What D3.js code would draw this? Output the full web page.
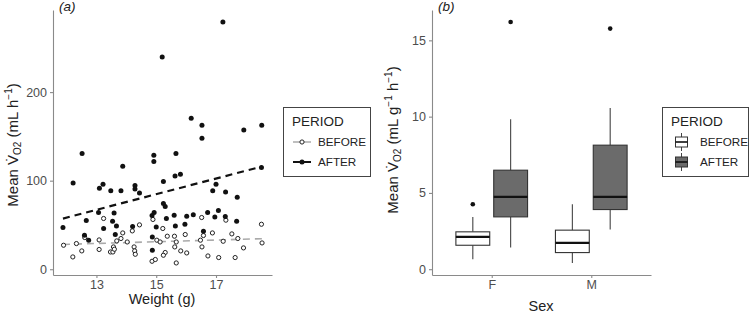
<!DOCTYPE html>
<html><head><meta charset="utf-8">
<script src="https://cdn.jsdelivr.net/npm/d3@7"></script>
<style>
body{margin:0;background:#fff;}
svg{display:block;font-family:"Liberation Sans",Arial,Helvetica,sans-serif;}
</style></head><body>
<svg id="chart" width="750" height="315"></svg>
<script>
// ---------- Panel (a) data ----------
const weightBefore = [11.9,12.33,12.51,12.21,13.09,13.24,13.57,13.68,13.47,13.55,13.6,13.88,13.82,14.03,14.44,14.2,14.26,14.28,14.3,14.89,15.02,14.86,14.97,12.61,13.09,16.52,17.33,18.52,15.22,15.37,15.61,15.97,15.67,15.13,15.62,15.82,16.02,15.3,15.24,15.67,16.48,16.53,16.58,16.88,17.24,17.53,17.73,17.92,18.54,16.73,17.09,17.64];
const vo2Before = [27.1,29.0,20.7,13.9,22.3,57.3,25.2,32.0,19.5,19.5,22.6,41.0,34.7,30.8,50.1,43.3,25.2,20.7,16.9,56.2,32.8,9.0,11.0,35.8,33.1,58.4,55.4,50.8,46.0,37.3,37.3,39.2,30.8,30.8,25.2,20.7,18.4,18.9,15.8,7.1,32.8,25.2,38.1,41.0,31.6,39.9,34.7,24.1,29.7,15.0,13.2,13.2];
const weightAfter = [12.52,14.92,14.92,15.66,13.88,12.22,13.1,13.22,13.48,13.82,14.29,14.29,14.44,15.24,15.63,15.81,16.89,17.0,17.32,17.71,18.52,11.88,12.66,12.6,12.74,13.07,13.24,13.59,13.54,13.67,13.63,14.21,14.86,14.93,15.0,14.87,14.87,15.24,15.3,15.34,15.6,15.64,15.96,16.02,16.24,16.72,17.08,16.96,17.31,17.69,16.58,15.2,16.17,16.53,16.53,17.23,17.93,18.53];
const vo2After = [130.7,128.8,121.7,130.7,116.4,97.5,91.5,96.0,88.5,88.5,94.6,90.7,86.2,99.1,105.4,107.3,88.5,96.0,87.3,81.4,114.9,47.1,55.0,38.4,32.8,64.1,46.0,63.6,54.2,48.9,39.2,48.2,60.7,64.1,47.8,36.5,21.5,74.2,70.8,57.3,61.0,48.9,50.8,59.9,61.4,64.1,66.3,59.1,59.5,54.2,42.9,239.5,170.6,162.7,148.0,279.1,157.1,162.7];
// fitted (linear) trend lines, endpoints at the weight range
const fitWeight = [11.88, 18.54];
const fitBefore = [28.0, 34.5];
const fitAfter = [57.2, 116.0];
const xTicksA = [13, 15, 17];
const yTicksA = [0, 100, 200];

// ---------- Panel (b) data ----------
const sexes = ["F", "M"];
const periods = ["BEFORE", "AFTER"];
// order: F-BEFORE, F-AFTER, M-BEFORE, M-AFTER
const whiskerLow = [0.65, 1.42, 0.41, 2.6];
const q1 = [1.57, 3.43, 1.09, 3.91];
const median = [2.12, 4.74, 1.72, 4.74];
const q3 = [2.45, 6.49, 2.56, 8.13];
const whiskerHigh = [3.43, 9.83, 4.26, 10.57];
const outliers = [[4.26], [16.2], [], [15.77]];
const yTicksB = [0, 5, 10, 15];

const svg = d3.select("#chart");
const axisCol = "#8a8a8a", tickTxt = "#4d4d4d", titleCol = "#222";

function expand(ext, f=0.05){const r=ext[1]-ext[0];return [ext[0]-r*f, ext[1]+r*f];}

// ---------- Panel (a) ----------
const allW = weightBefore.concat(weightAfter), allV = vo2Before.concat(vo2After);
const xA = d3.scaleLinear().domain(expand(d3.extent(allW))).range([53, 272]);
const yA = d3.scaleLinear().domain(expand(d3.extent(allV))).range([275, 10]);

function styleAxis(g){
  g.select(".domain").attr("stroke", axisCol).attr("stroke-width", 1.1);
  g.selectAll(".tick line").attr("stroke", axisCol).attr("stroke-width", 1.1);
  g.selectAll(".tick text").attr("fill", tickTxt).attr("font-size", 12.5).attr("font-family", "Liberation Sans, Arial, sans-serif");
}
const gA = svg.append("g");
gA.append("g").attr("transform", "translate(0,275)")
  .call(d3.axisBottom(xA).tickValues(xTicksA).tickSize(3).tickPadding(2).tickSizeOuter(0)).call(styleAxis);
gA.append("g").attr("transform", "translate(53,0)")
  .call(d3.axisLeft(yA).tickValues(yTicksA).tickSize(3).tickPadding(3).tickSizeOuter(0)).call(styleAxis);

// trend lines
const lineA = d3.line().x(d => xA(d[0])).y(d => yA(d[1]));
gA.append("path").datum(fitWeight.map((w,i)=>[w, fitBefore[i]])).attr("d", lineA)
  .attr("fill","none").attr("stroke","#aaaaaa").attr("stroke-width",1.6).attr("stroke-dasharray","7,5");
gA.append("path").datum(fitWeight.map((w,i)=>[w, fitAfter[i]])).attr("d", lineA)
  .attr("fill","none").attr("stroke","#111").attr("stroke-width",2.2).attr("stroke-dasharray","7,5");

// points
gA.append("g").selectAll("circle").data(weightBefore.map((w,i)=>[w, vo2Before[i]])).join("circle")
  .attr("cx", d=>xA(d[0])).attr("cy", d=>yA(d[1])).attr("r", 2.1)
  .attr("fill","#fff").attr("stroke","#222").attr("stroke-width",1);
gA.append("g").selectAll("circle").data(weightAfter.map((w,i)=>[w, vo2After[i]])).join("circle")
  .attr("cx", d=>xA(d[0])).attr("cy", d=>yA(d[1])).attr("r", 2.5).attr("fill","#111");

// labels
svg.append("text").attr("x", 59).attr("y", 11).attr("font-size", 13.5).attr("font-style","italic").attr("fill","#222").text("(a)");
svg.append("text").attr("x", 162).attr("y", 304).attr("text-anchor","middle").attr("font-size",14.5).attr("fill",titleCol).text("Weight (g)");

function yTitle(x, y, parts){
  const t = svg.append("text").attr("transform", `translate(${x},${y}) rotate(-90)`)
    .attr("text-anchor","middle").attr("font-size",15).attr("fill",titleCol);
  parts.forEach(p=>{
    const s = t.append("tspan").text(p.t);
    if (p.sub){ s.attr("font-size",10).attr("dy",3); }
    else if (p.sup){ s.attr("font-size",10).attr("dy",-6); }
    if (p.reset) s.attr("dy", p.reset);
  });
}
yTitle(18, 145, [
  {t:"Mean V\u0307"},{t:"O2",sub:true},{t:" (mL h",reset:-3},{t:"\u22121",sup:true},{t:")",reset:6}
]);

// legend (a)
const lgA = svg.append("g");
lgA.append("rect").attr("x",283.5).attr("y",107.5).attr("width",87).attr("height",69).attr("fill","#fff").attr("stroke","#444").attr("stroke-width",1);
lgA.append("text").attr("x",292).attr("y",126).attr("font-size",13.5).attr("fill","#222").text("PERIOD");
periods.forEach((p,i)=>{
  const yy = 142 + i*20;
  lgA.append("line").attr("x1",293).attr("x2",311).attr("y1",yy).attr("y2",yy)
    .attr("stroke", i===0?"#aaaaaa":"#111").attr("stroke-width", i===0?1.6:2.2).attr("stroke-dasharray","7,4");
  lgA.append("circle").attr("cx",302).attr("cy",yy).attr("r", i===0?2.1:2.5)
    .attr("fill", i===0?"#fff":"#111").attr("stroke", i===0?"#222":"none");
  lgA.append("text").attr("x",318).attr("y",yy+4).attr("font-size",11.7).attr("fill","#222").text(p);
});

// ---------- Panel (b) ----------
const xB = d3.scaleLinear().domain([0.4, 2.6]).range([432, 651]);
const allB = whiskerLow.concat(whiskerHigh, outliers.flat());
const yB = d3.scaleLinear().domain(expand(d3.extent(allB))).range([275, 10]);
const gB = svg.append("g");
gB.append("g").attr("transform","translate(0,275)")
  .call(d3.axisBottom(xB).tickValues([1,2]).tickFormat((d)=>sexes[d-1]).tickSize(3).tickPadding(2).tickSizeOuter(0)).call(styleAxis);
gB.append("g").attr("transform","translate(432,0)")
  .call(d3.axisLeft(yB).tickValues(yTicksB).tickSize(3).tickPadding(3).tickSizeOuter(0)).call(styleAxis);

const dodge = 0.19, bw = 0.34;
const boxes = [];
sexes.forEach((s,si)=>periods.forEach((p,pi)=>{
  const k = si*2+pi;
  boxes.push({c: si+1 + (pi===0?-dodge:dodge), pi, lo:whiskerLow[k], q1:q1[k], med:median[k], q3:q3[k], hi:whiskerHigh[k], out:outliers[k]});
}));
const bx = gB.selectAll("g.box").data(boxes).join("g").attr("class","box");
bx.append("line").attr("x1",d=>xB(d.c)).attr("x2",d=>xB(d.c)).attr("y1",d=>yB(d.lo)).attr("y2",d=>yB(d.q1)).attr("stroke","#444").attr("stroke-width",1.1);
bx.append("line").attr("x1",d=>xB(d.c)).attr("x2",d=>xB(d.c)).attr("y1",d=>yB(d.q3)).attr("y2",d=>yB(d.hi)).attr("stroke","#444").attr("stroke-width",1.1);
bx.append("rect").attr("x",d=>xB(d.c-bw/2)).attr("width",d=>xB(d.c+bw/2)-xB(d.c-bw/2))
  .attr("y",d=>yB(d.q3)).attr("height",d=>yB(d.q1)-yB(d.q3))
  .attr("fill",d=>d.pi===0?"#fff":"#6b6b6b").attr("stroke","#333").attr("stroke-width",1.1);
bx.append("line").attr("x1",d=>xB(d.c-bw/2)).attr("x2",d=>xB(d.c+bw/2)).attr("y1",d=>yB(d.med)).attr("y2",d=>yB(d.med)).attr("stroke","#111").attr("stroke-width",2.2);
bx.selectAll("circle").data(d=>d.out.map(v=>({c:d.c,v}))).join("circle")
  .attr("cx",d=>xB(d.c)).attr("cy",d=>yB(d.v)).attr("r",2.3).attr("fill","#111");

svg.append("text").attr("x", 438).attr("y", 11).attr("font-size", 13.5).attr("font-style","italic").attr("fill","#222").text("(b)");
svg.append("text").attr("x", 541).attr("y", 311).attr("text-anchor","middle").attr("font-size",14.5).attr("fill",titleCol).text("Sex");
yTitle(398, 140, [
  {t:"Mean V\u0307"},{t:"O2",sub:true},{t:" (mL g",reset:-3},{t:"\u22121",sup:true},{t:" h",reset:6},{t:"\u22121",sup:true},{t:")",reset:6}
]);

// legend (b)
const lgB = svg.append("g");
lgB.append("rect").attr("x",662.5).attr("y",107.5).attr("width",86).attr("height",69).attr("fill","#fff").attr("stroke","#444").attr("stroke-width",1);
lgB.append("text").attr("x",671).attr("y",126).attr("font-size",13.5).attr("fill","#222").text("PERIOD");
periods.forEach((p,i)=>{
  const yy = 142 + i*20;
  lgB.append("line").attr("x1",681.5).attr("x2",681.5).attr("y1",yy-9).attr("y2",yy+9).attr("stroke","#444").attr("stroke-width",1);
  lgB.append("rect").attr("x",675.5).attr("y",yy-5).attr("width",12).attr("height",10)
    .attr("fill", i===0?"#fff":"#6b6b6b").attr("stroke","#333").attr("stroke-width",1);
  lgB.append("line").attr("x1",675.5).attr("x2",687.5).attr("y1",yy).attr("y2",yy).attr("stroke","#111").attr("stroke-width",1.6);
  lgB.append("text").attr("x",700).attr("y",yy+4).attr("font-size",11.7).attr("fill","#222").text(p);
});
</script></body></html>
